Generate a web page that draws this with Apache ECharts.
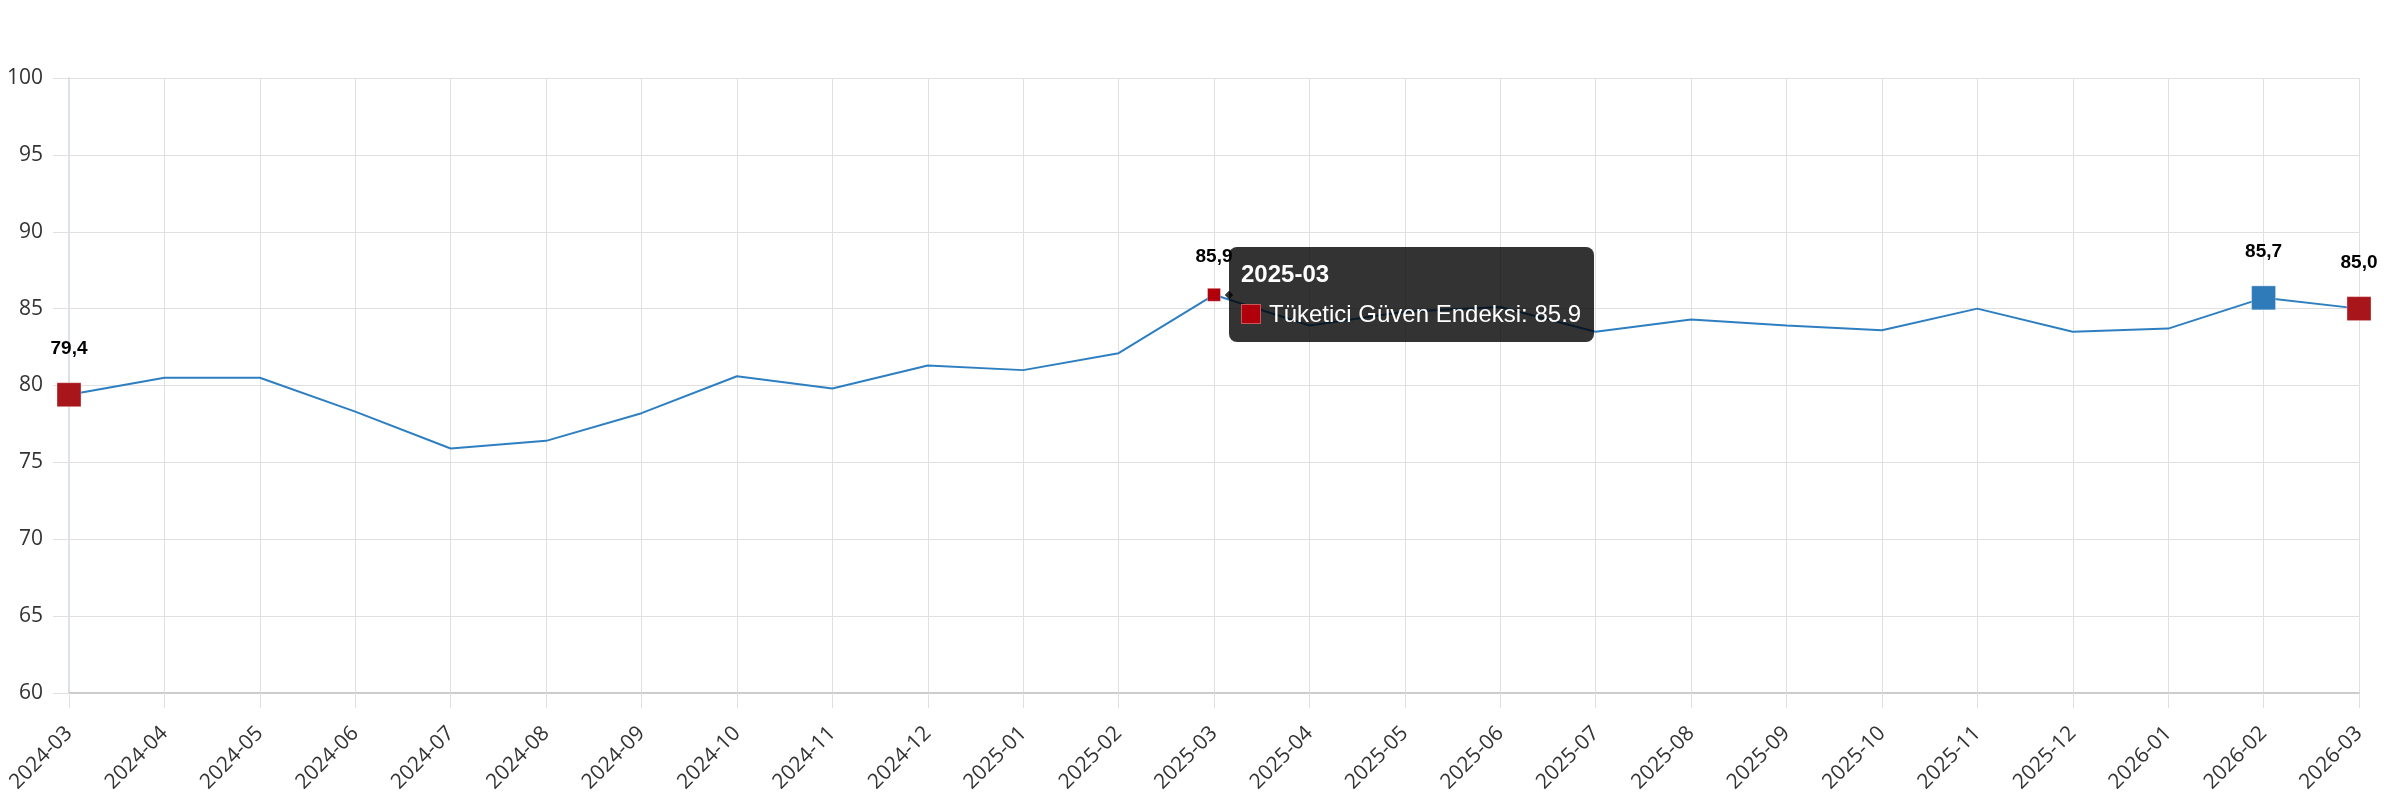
<!DOCTYPE html>
<html><head><meta charset="utf-8">
<script src="https://cdn.jsdelivr.net/npm/echarts@6/dist/echarts.min.js"></script>
<style>html,body{margin:0;padding:0;background:#fff}#c{width:2384px;height:800px}</style>
</head><body><div id="c"></div>
<script>
const categories = ['2024-03','2024-04','2024-05','2024-06','2024-07','2024-08','2024-09','2024-10','2024-11','2024-12',
  '2025-01','2025-02','2025-03','2025-04','2025-05','2025-06','2025-07','2025-08','2025-09','2025-10','2025-11','2025-12',
  '2026-01','2026-02','2026-03'];
const values = [79.4,80.5,80.5,78.3,75.9,76.4,78.2,80.6,79.8,81.3,
  81.0,82.1,85.9,83.9,84.8,85.1,83.5,84.3,83.9,83.6,85.0,83.5,
  83.7,85.7,85.0];
const yMin = 60, yMax = 100, yStep = 5;
const seriesName = 'Tüketici Güven Endeksi';
const markedIndices = [0, 12, 23, 24];
const tooltipIndex = 12;

// styling for marked points (kept separate from data)
const markStyle = {
  0:  {color:'#a8151b', size:24, dist:24},
  12: {color:'#b0000b', size:13, dist:22},
  23: {color:'#2f7bb9', size:24, dist:24},
  24: {color:'#a8151b', size:24, dist:24}
};

const seriesData = values.map((v, i) => {
  if (markedIndices.indexOf(i) < 0) return v;
  const s = markStyle[i];
  return {
    value: v,
    symbol: 'rect',
    symbolSize: s.size,
    itemStyle: {color: s.color, borderColor: 'rgba(255,255,255,0.35)', borderWidth: 1},
    label: {show: true, position: 'top', distance: s.dist}
  };
});

const chart = echarts.init(document.getElementById('c'), null, {renderer: 'canvas'});
chart.setOption({
  animation: false,
  grid: {left: 69, right: 25, top: 78, bottom: 107},
  tooltip: {
    trigger: 'item',
    triggerOn: 'none',
    alwaysShowContent: true,
    position: 'right',
    transitionDuration: 0,
    backgroundColor: 'rgba(0,0,0,0.8)',
    borderColor: 'rgba(0,0,0,0.8)',
    borderWidth: 0,
    borderRadius: 8,
    padding: [12, 13, 13, 12],
    textStyle: {color: '#fff', fontFamily: 'Arial, "Liberation Sans", sans-serif'},
    extraCssText: 'box-shadow:none;',
    formatter: function (p) {
      const c = (markStyle[p.dataIndex] && markStyle[p.dataIndex].color) || p.color;
      return '<div style="font-weight:bold;font-size:24px;line-height:30px;color:#fff">' + p.name + '</div>' +
        '<div style="margin-top:10px;font-size:24px;line-height:30px;white-space:nowrap;color:#fff">' +
        '<span style="display:inline-block;width:18px;height:18px;background:' + c +
        ';border:1px solid #c9565b;vertical-align:middle;margin-right:8px;margin-top:-3px"></span>' +
        p.seriesName + ': ' + p.value + '</div>';
    }
  },
  xAxis: {
    type: 'category',
    data: categories,
    boundaryGap: false,
    axisLine: {show: true, lineStyle: {color: '#cccccc', width: 2}},
    axisTick: {show: true, interval: 0, length: 15, lineStyle: {color: '#e0e0e0'}},
    axisLabel: {interval: 0, rotate: 45, margin: 37, fontSize: 21, color: '#333', fontFamily: '"Open Sans", "Noto Sans", sans-serif'},
    splitLine: {show: true, interval: 0, lineStyle: {color: '#e0e0e0', width: 1}}
  },
  yAxis: {
    type: 'value',
    min: yMin, max: yMax, interval: yStep,
    axisLine: {show: true, lineStyle: {color: '#dde1e8', width: 2}},
    axisTick: {show: true, length: 16, lineStyle: {color: '#e0e0e0'}},
    axisLabel: {margin: 26, fontSize: 21, color: '#333', fontFamily: '"Open Sans", "Noto Sans", sans-serif'},
    splitLine: {show: true, lineStyle: {color: '#e0e0e0', width: 1}}
  },
  series: [{
    name: seriesName,
    type: 'line',
    data: seriesData,
    symbol: 'none',
    showSymbol: true,
    showAllSymbol: true,
    lineStyle: {color: '#2e7fc1', width: 2},
    itemStyle: {color: '#2e7fc1'},
    emphasis: {disabled: true},
    label: {
      show: false,
      color: '#000',
      fontWeight: 'bold',
      fontSize: 19,
      fontFamily: 'Arial, "Liberation Sans", sans-serif',
      formatter: p => p.value.toFixed(1).replace('.', ',')
    }
  }]
});
chart.dispatchAction({type: 'showTip', seriesIndex: 0, dataIndex: tooltipIndex});
setTimeout(() => chart.dispatchAction({type: 'showTip', seriesIndex: 0, dataIndex: tooltipIndex}), 50);
</script>
</body></html>
